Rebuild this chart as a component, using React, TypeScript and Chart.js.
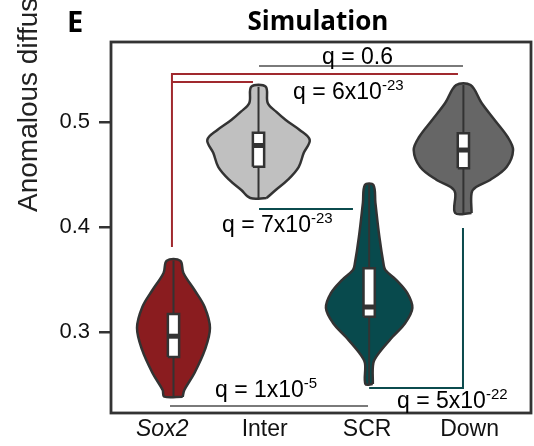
import React, { useEffect, useRef } from 'react';
import { Chart, registerables } from 'chart.js';

Chart.register(...registerables);

// ---------- data ----------
const categories = ['Sox2', 'Inter', 'SCR', 'Down'];
const categoryTicks = [1, 2, 3, 4];
const violinCenters = [1.11, 1.94, 3.02, 3.94];
const yTicks = [0.3, 0.4, 0.5];

// violin density profiles (value levels bottom -> top, half widths in category units)
const sox2Levels = [0.2384, 0.2448, 0.261, 0.2829, 0.3038, 0.3238, 0.34, 0.3562, 0.3679];
const sox2Half = [0.09, 0.106, 0.205, 0.306, 0.356, 0.304, 0.205, 0.097, 0.066];

const interLevels = [0.4276, 0.4352, 0.4448, 0.4571, 0.4705, 0.4829, 0.4924, 0.5019, 0.5098, 0.5181, 0.5336];
const interHalf = [0.08, 0.168, 0.285, 0.392, 0.441, 0.5, 0.402, 0.266, 0.172, 0.09, 0.07];

const scrLevels = [0.2505, 0.2705, 0.28, 0.2952, 0.3086, 0.3229, 0.3371, 0.3495, 0.359, 0.3657, 0.3905, 0.4229, 0.44];
const scrHalf = [0.036, 0.041, 0.095, 0.227, 0.353, 0.422, 0.373, 0.266, 0.158, 0.139, 0.1, 0.061, 0.041];

const downLevels = [0.4133, 0.4324, 0.4381, 0.4448, 0.4571, 0.4733, 0.4857, 0.5019, 0.5181, 0.5352];
const downHalf = [0.08, 0.08, 0.124, 0.261, 0.422, 0.485, 0.432, 0.305, 0.178, 0.07];

const boxQ1 = [0.2762, 0.4574, 0.3146, 0.4559];
const boxMedian = [0.296, 0.4776, 0.3238, 0.4733];
const boxQ3 = [0.3171, 0.4898, 0.3607, 0.4892];

const violinFills = ['#8a1c1f', '#c0c0c0', '#084a4d', '#666666'];

// significance brackets
const bracketXs = [
  [1.945, 3.936],
  [1.095, 1.095, 3.887],
  [1.095, 1.886],
  [1.945, 2.862],
  [1.076, 3.009],
  [3.02, 3.936, 3.936],
];
const bracketYs = [
  [0.5533, 0.5533],
  [0.381, 0.5457, 0.5457],
  [0.5381, 0.5381],
  [0.4171, 0.4171],
  [0.2295, 0.2295],
  [0.2467, 0.2467, 0.399],
];
const bracketColors = ['#7a7a7a', '#a0292e', '#a0292e', '#0b4b4d', '#7a7a7a', '#0b4b4d'];

const qTexts = ['q = 0.6', 'q = 6x10', 'q = 7x10', 'q = 1x10', 'q = 5x10'];
const qSups = ['', '-23', '-23', '-5', '-22'];
const qX = [2.56, 2.277, 1.584, 1.515, 3.292];
const qY = [0.5552, 0.5219, 0.3952, 0.2381, 0.2276];

const SANS = '"Liberation Sans", Arial, sans-serif';
const OUTLINE = '#333333';

function violinPoints(cx: number, levels: number[], half: number[]) {
  const right = levels.map((v, i) => ({ x: cx + half[i], y: v }));
  const left = levels.map((v, i) => ({ x: cx - half[i], y: v })).reverse();
  return [...right, ...left, right[0]];
}

export default function App() {
  const ref = useRef<HTMLCanvasElement>(null);

  useEffect(() => {
    const levelsAll = [sox2Levels, interLevels, scrLevels, downLevels];
    const halfAll = [sox2Half, interHalf, scrHalf, downHalf];
    const boxHalf = 0.055;
    const datasets: any[] = [];

    violinCenters.forEach((cx, i) => {
      datasets.push({
        data: violinPoints(cx, levelsAll[i], halfAll[i]),
        borderColor: OUTLINE,
        backgroundColor: violinFills[i],
        borderWidth: 2.5,
        borderJoinStyle: 'round',
        fill: 'shape',
        tension: 0.35,
        pointRadius: 0,
        order: 4,
      });
      const lv = levelsAll[i];
      datasets.push({
        data: [
          { x: cx, y: lv[0] },
          { x: cx, y: lv[lv.length - 1] },
        ],
        borderColor: OUTLINE,
        borderWidth: 2,
        fill: false,
        pointRadius: 0,
        order: 3,
      });
      datasets.push({
        data: [
          { x: cx - boxHalf, y: boxQ1[i] },
          { x: cx + boxHalf, y: boxQ1[i] },
          { x: cx + boxHalf, y: boxQ3[i] },
          { x: cx - boxHalf, y: boxQ3[i] },
          { x: cx - boxHalf, y: boxQ1[i] },
        ],
        borderColor: OUTLINE,
        backgroundColor: '#ffffff',
        borderWidth: 2.5,
        fill: 'shape',
        tension: 0,
        pointRadius: 0,
        order: 2,
      });
      datasets.push({
        data: [
          { x: cx - boxHalf, y: boxMedian[i] },
          { x: cx + boxHalf, y: boxMedian[i] },
        ],
        borderColor: OUTLINE,
        borderWidth: 5,
        fill: false,
        pointRadius: 0,
        order: 1,
      });
    });

    bracketXs.forEach((xs, i) => {
      datasets.push({
        data: xs.map((x, j) => ({ x, y: bracketYs[i][j] })),
        borderColor: bracketColors[i],
        borderWidth: 2,
        fill: false,
        tension: 0,
        pointRadius: 0,
        order: 0,
      });
    });

    const decor = {
      id: 'decor',
      afterDraw(chart: any) {
        const ctx = chart.ctx;
        const a = chart.chartArea;
        const xs = chart.scales.x;
        const ys = chart.scales.y;
        ctx.save();
        // frame
        ctx.strokeStyle = OUTLINE;
        ctx.lineWidth = 2.8;
        ctx.strokeRect(a.left, a.top, a.right - a.left, a.bottom - a.top);

        // q labels
        ctx.fillStyle = '#000';
        ctx.textBaseline = 'alphabetic';
        ctx.textAlign = 'left';
        qTexts.forEach((t, i) => {
          const px = xs.getPixelForValue(qX[i]);
          const py = ys.getPixelForValue(qY[i]);
          ctx.font = `23px ${SANS}`;
          ctx.fillText(t, px, py);
          if (qSups[i]) {
            const w = ctx.measureText(t).width;
            ctx.font = `15px ${SANS}`;
            ctx.fillText(qSups[i], px + w, py - 9);
          }
        });

        // title & panel letter
        ctx.font = `bold 26px "Open Sans", sans-serif`;
        ctx.textAlign = 'center';
        ctx.fillText('Simulation', (a.left + a.right) / 2 - 3, 30);
        ctx.textAlign = 'left';
        ctx.font = `bold 29px "Open Sans", sans-serif`;
        ctx.fillText('E', 67, 32);

        // y axis title
        ctx.translate(36.5, 212);
        ctx.rotate(-Math.PI / 2);
        ctx.font = `28px ${SANS}`;
        ctx.fillStyle = '#222';
        ctx.fillText('Anomalous diffusion exponent', 0, 0);
        ctx.restore();
      },
    };

    const chart = new Chart(ref.current as HTMLCanvasElement, {
      type: 'line',
      data: { datasets },
      options: {
        animation: false,
        responsive: false,
        devicePixelRatio: 1,
        layout: { padding: { top: 42, right: 3, left: 0, bottom: 0 } },
        plugins: { legend: { display: false }, tooltip: { enabled: false } },
        scales: {
          x: {
            type: 'linear',
            min: 0.5,
            max: 4.6,
            grid: { display: false, drawTicks: false },
            border: { display: false },
            afterBuildTicks: (s: any) => {
              s.ticks = categoryTicks.map((v) => ({ value: v }));
            },
            afterFit: (s: any) => {
              s.height = 33;
            },
            ticks: {
              padding: 3,
              color: '#111',
              maxRotation: 0,
              autoSkip: false,
              font: (c: any) => ({
                family: SANS,
                size: 23,
                style: c.index === 0 ? 'italic' : 'normal',
              }),
              callback: (v: any) => {
                const idx = categoryTicks.indexOf(Number(v));
                return idx >= 0 ? categories[idx] : '';
              },
            },
          },
          y: {
            type: 'linear',
            min: 0.22286,
            max: 0.57619,
            grid: {
              display: true,
              drawOnChartArea: false,
              drawTicks: true,
              tickLength: 12,
              color: OUTLINE,
              lineWidth: 2.5,
            },
            border: { display: false },
            afterBuildTicks: (s: any) => {
              s.ticks = yTicks.map((v) => ({ value: v }));
            },
            afterFit: (s: any) => {
              s.width = 111;
            },
            ticks: {
              padding: 9,
              color: '#111',
              font: { family: SANS, size: 22 },
              callback: (v: any) => Number(v).toFixed(1),
            },
          },
        },
      } as any,
      plugins: [decor],
    });
    return () => chart.destroy();
  }, []);

  return (
    <div style={{ position: 'absolute', left: 0, top: 0, width: 534, height: 446, background: '#fff' }}>
      <canvas ref={ref} width={534} height={446} style={{ display: 'block', width: 534, height: 446 }} />
    </div>
  );
}
